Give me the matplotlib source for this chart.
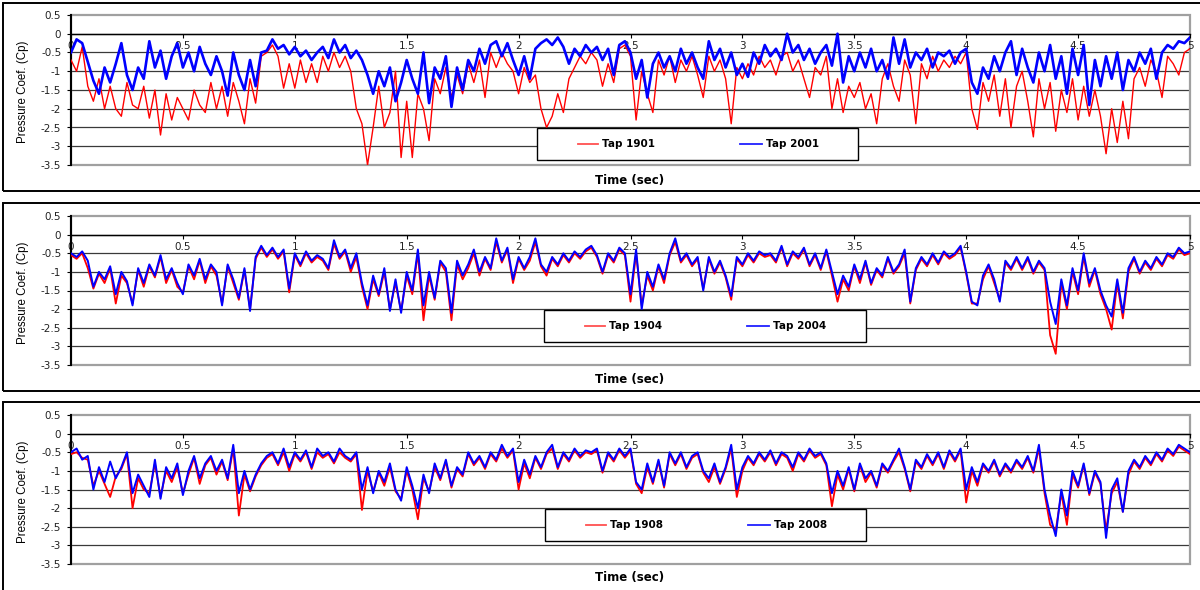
import numpy as np
import matplotlib
matplotlib.use("Agg")
import matplotlib.pyplot as plt
from matplotlib.patches import Rectangle
from matplotlib.lines import Line2D

plt.rcParams['axes.unicode_minus'] = False

# ---------------- data (time step 0.025 s, 0 .. 5 s) ----------------
time_sec = np.round(np.arange(0, 5.0001, 0.025), 3)

tap1901 = [
    -0.7, -1.0, -0.35, -1.4, -1.8, -1.2, -2.0, -1.4, -2.0, -2.2,
    -1.3, -1.9, -2.0, -1.4, -2.25, -1.5, -2.7, -1.6, -2.3, -1.7,
    -2.0, -2.3, -1.5, -1.9, -2.1, -1.3, -2.0, -1.4, -2.2, -1.3,
    -1.8, -2.4, -1.2, -1.85, -0.6, -0.5, -0.3, -0.6, -1.45, -0.8,
    -1.45, -0.7, -1.3, -0.8, -1.3, -0.6, -1.0, -0.5, -0.9, -0.6,
    -1.0, -2.0, -2.4, -3.5, -2.5, -1.4, -2.5, -2.1, -1.0, -3.3,
    -1.8, -3.3, -1.6, -2.0, -2.85, -1.2, -1.6, -0.9, -1.7, -1.1,
    -1.6, -0.8, -1.3, -0.7, -1.7, -0.5, -0.9, -0.5, -0.8, -1.0,
    -1.6, -0.9, -1.3, -1.1, -2.0, -2.5, -2.2, -1.6, -2.1, -1.2,
    -0.9, -0.6, -0.8, -0.5, -0.7, -1.4, -0.8, -1.3, -0.4, -0.3,
    -0.6, -2.3, -1.0, -1.6, -2.1, -0.7, -1.1, -0.6, -1.3, -0.7,
    -1.0, -0.6, -1.1, -1.7, -0.6, -1.0, -0.7, -1.2, -2.4, -0.9,
    -1.2, -0.8, -1.1, -0.6, -0.9, -0.7, -1.1, -0.6, -0.5, -1.0,
    -0.7, -1.2, -1.7, -0.9, -1.1, -0.6, -2.0, -1.2, -2.1, -1.4,
    -1.7, -1.3, -2.0, -1.6, -2.4, -1.2, -0.8, -1.4, -1.8, -0.7,
    -1.1, -2.4, -0.8, -1.2, -0.6, -1.0, -0.7, -0.9, -0.6, -0.8,
    -0.5, -2.0, -2.55, -1.3, -1.8, -1.1, -2.2, -1.2, -2.5, -1.4,
    -1.0, -1.8, -2.75, -1.2, -2.0, -1.3, -2.6, -1.5, -2.1, -1.2,
    -2.3, -1.4, -2.2, -1.5, -2.2, -3.2, -2.0, -2.9, -1.8, -2.8,
    -1.2, -0.9, -1.4, -0.7, -1.0, -1.7, -0.6, -0.8, -1.1, -0.5,
    -0.4,
]
tap2001 = [
    -0.5, -0.15, -0.25, -0.75, -1.25, -1.6, -0.9, -1.3, -0.8, -0.25,
    -1.1, -1.5, -0.9, -1.2, -0.2, -0.9, -0.45, -1.2, -0.6, -0.25,
    -0.9, -0.5, -1.0, -0.35, -0.8, -1.1, -0.6, -1.0, -1.65, -0.5,
    -1.1, -1.5, -0.7, -1.4, -0.5, -0.45, -0.15, -0.4, -0.3, -0.55,
    -0.35, -0.6, -0.45, -0.7, -0.5, -0.35, -0.65, -0.15, -0.5, -0.3,
    -0.65, -0.45, -0.7, -1.1, -1.6, -1.0, -1.4, -0.9, -1.8, -1.3,
    -0.7, -1.2, -1.6, -0.5, -1.85, -0.9, -1.2, -0.6, -1.95, -0.9,
    -1.5, -0.7, -1.0, -0.4, -0.8, -0.3, -0.2, -0.6, -0.25, -0.7,
    -1.1, -0.6, -1.2, -0.4, -0.25, -0.15, -0.3, -0.1, -0.35, -0.8,
    -0.4, -0.6, -0.3, -0.5, -0.35, -0.7, -0.4, -1.1, -0.3, -0.2,
    -0.5, -1.2, -0.7, -1.7, -0.8, -0.5, -0.9, -0.6, -1.0, -0.4,
    -0.8, -0.5, -0.9, -1.2, -0.2, -0.7, -0.4, -0.9, -0.5, -1.1,
    -0.8, -1.15, -0.5, -0.8, -0.3, -0.6, -0.4, -0.7, 0.0, -0.5,
    -0.3, -0.7, -0.4, -0.8, -0.5, -0.3, -0.85, 0.0, -1.3, -0.6,
    -1.0, -0.5, -0.9, -0.4, -1.0, -0.7, -1.2, -0.1, -0.8, -0.15,
    -0.9, -0.5, -0.7, -0.4, -0.9, -0.5, -0.6, -0.45, -0.8, -0.5,
    -0.4, -1.3, -1.6, -0.9, -1.2, -0.6, -1.0, -0.5, -0.2, -1.1,
    -0.4, -0.9, -1.3, -0.5, -1.0, -0.3, -1.2, -0.6, -1.6, -0.4,
    -1.1, -0.3, -1.9, -0.7, -1.4, -0.6, -1.2, -0.5, -1.5, -0.7,
    -1.0, -0.5, -0.8, -0.4, -1.2, -0.5, -0.3, -0.4, -0.2, -0.25,
    -0.1,
]

tap2004 = [
    -0.5, -0.6, -0.45, -0.7, -1.4, -1.0, -1.2, -0.85, -1.6, -1.0,
    -1.25, -1.9, -0.9, -1.3, -0.8, -1.1, -0.55, -1.2, -0.9, -1.3,
    -1.6, -0.8, -1.1, -0.65, -1.2, -0.8, -1.0, -1.9, -0.8, -1.2,
    -1.7, -0.9, -2.05, -0.6, -0.3, -0.55, -0.35, -0.6, -0.4, -1.45,
    -0.5, -0.8, -0.45, -0.7, -0.55, -0.65, -0.9, -0.15, -0.6, -0.4,
    -0.9, -0.5, -1.3, -1.9, -1.1, -1.6, -0.9, -2.05, -1.2, -2.1,
    -1.0, -1.5, -0.4, -1.9, -1.0, -1.7, -0.7, -0.9, -2.1, -0.7,
    -1.1, -0.8, -0.4, -1.0, -0.6, -0.9, -0.1, -0.7, -0.35, -1.2,
    -0.6, -0.9, -0.6, -0.1, -0.8, -1.0, -0.6, -0.8, -0.5, -0.7,
    -0.45, -0.6, -0.4, -0.3, -0.55, -1.0, -0.5, -0.7, -0.35, -0.5,
    -1.6, -0.4, -2.0, -1.0, -1.4, -0.8, -1.2, -0.5, -0.1, -0.7,
    -0.5, -0.8, -0.6, -1.5, -0.6, -1.0, -0.7, -1.1, -1.65, -0.6,
    -0.8, -0.5, -0.7, -0.45, -0.55, -0.5, -0.7, -0.3, -0.8, -0.45,
    -0.6, -0.35, -0.8, -0.5, -0.9, -0.4, -1.0, -1.6, -1.1, -1.4,
    -0.8, -1.2, -0.7, -1.3, -0.9, -1.1, -0.6, -1.0, -0.8, -0.4,
    -1.8, -0.9, -0.6, -0.8, -0.5, -0.75, -0.45, -0.6, -0.5, -0.3,
    -1.0, -1.8, -1.9, -1.1, -0.8, -1.2, -1.8, -0.7, -0.9, -0.6,
    -0.9, -0.6, -1.0, -0.7, -0.9, -1.8, -2.4, -1.2, -1.9, -0.9,
    -1.5, -0.5, -1.3, -0.9, -1.5, -1.9, -2.2, -1.2, -2.1, -0.9,
    -0.6, -1.0, -0.7, -0.9, -0.6, -0.8, -0.5, -0.6, -0.35, -0.5,
    -0.45,
]
tap1904 = [
    -0.55, -0.65, -0.5, -0.9, -1.45, -1.05, -1.3, -0.9, -1.85, -1.1,
    -1.3, -1.85, -0.95, -1.4, -0.85, -1.15, -0.6, -1.3, -0.95, -1.4,
    -1.55, -0.85, -1.2, -0.7, -1.3, -0.85, -1.1, -1.85, -0.85, -1.3,
    -1.75, -0.95, -2.0, -0.65, -0.35, -0.6, -0.4, -0.65, -0.45, -1.55,
    -0.55, -0.85, -0.5, -0.75, -0.6, -0.7, -0.95, -0.25, -0.65, -0.45,
    -1.0, -0.6, -1.4, -2.0, -1.2, -1.65, -1.0, -2.0, -1.3, -2.05,
    -1.1, -1.6, -0.5, -2.3, -1.1, -1.75, -0.75, -1.0, -2.3, -0.8,
    -1.2, -0.9, -0.5, -1.1, -0.65, -0.95, -0.2, -0.75, -0.4, -1.3,
    -0.65, -0.95, -0.7, -0.2, -0.85, -1.1, -0.65, -0.85, -0.55, -0.75,
    -0.5, -0.65, -0.45, -0.35, -0.6, -1.05, -0.55, -0.75, -0.4, -0.55,
    -1.8, -0.5, -1.9, -1.1, -1.5, -0.85, -1.3, -0.55, -0.2, -0.75,
    -0.55, -0.85, -0.65, -1.45, -0.65, -1.05, -0.75, -1.15, -1.75, -0.65,
    -0.85, -0.55, -0.75, -0.5, -0.6, -0.55, -0.75, -0.35, -0.85, -0.5,
    -0.65, -0.4, -0.85, -0.55, -0.95, -0.45, -1.1, -1.8, -1.2, -1.5,
    -0.85, -1.3, -0.75, -1.35, -0.95, -1.15, -0.65, -1.05, -0.85, -0.5,
    -1.85, -0.95, -0.65, -0.85, -0.55, -0.8, -0.5, -0.65, -0.55, -0.35,
    -1.05, -1.85, -1.85, -1.2, -0.85, -1.3, -1.75, -0.75, -0.95, -0.65,
    -0.95, -0.65, -1.05, -0.75, -0.95, -2.7, -3.2, -1.3, -2.0, -1.0,
    -1.6, -0.6, -1.4, -0.95, -1.6, -2.0, -2.55, -1.3, -2.25, -1.0,
    -0.65, -1.05, -0.75, -0.95, -0.65, -0.85, -0.55, -0.65, -0.4, -0.55,
    -0.5,
]

tap2008 = [
    -0.5, -0.4, -0.7, -0.6, -1.5, -0.9, -1.3, -0.75, -1.2, -0.9,
    -0.5, -1.6, -1.1, -1.4, -1.7, -0.7, -1.75, -0.9, -1.2, -0.8,
    -1.65, -1.0, -0.6, -1.2, -0.8, -0.6, -1.0, -0.7, -1.2, -0.3,
    -1.6, -1.0, -1.5, -1.1, -0.8, -0.6, -0.5, -0.8, -0.4, -0.9,
    -0.5, -0.7, -0.45, -0.9, -0.4, -0.6, -0.5, -0.75, -0.4, -0.6,
    -0.7, -0.5, -1.5, -0.9, -1.6, -1.0, -1.3, -0.8, -1.5, -1.8,
    -0.9, -1.4, -2.0, -1.1, -1.6, -0.8, -1.2, -0.7, -1.4, -0.9,
    -1.1, -0.5, -0.8, -0.6, -0.9, -0.5, -0.7, -0.3, -0.6, -0.4,
    -1.3, -0.7, -1.1, -0.6, -0.9, -0.5, -0.3, -0.9, -0.5, -0.7,
    -0.4, -0.6, -0.45, -0.5, -0.4, -1.0, -0.5, -0.7, -0.4, -0.6,
    -0.4, -1.3, -1.5, -0.8, -1.3, -0.7, -1.4, -0.5, -0.8, -0.5,
    -0.9, -0.6, -0.5, -1.0, -1.2, -0.8, -1.3, -0.9, -0.3, -1.5,
    -0.9, -0.6, -0.8, -0.5, -0.7, -0.45, -0.8, -0.5, -0.6, -0.9,
    -0.5, -0.7, -0.4, -0.6, -0.5, -0.8, -1.6, -1.0, -1.4, -0.9,
    -1.5, -0.8, -1.2, -1.0, -1.4, -0.8, -1.0, -0.7, -0.4, -0.9,
    -1.5, -0.7, -0.9, -0.55, -0.8, -0.5, -0.9, -0.45, -0.7, -0.4,
    -1.5, -0.9, -1.3, -0.8, -1.0, -0.7, -1.1, -0.8, -1.0, -0.7,
    -0.9, -0.6, -1.0, -0.3, -1.5, -2.2, -2.75, -1.5, -2.2, -1.0,
    -1.4, -0.8, -1.6, -1.0, -1.3, -2.8, -1.5, -1.2, -2.1, -1.0,
    -0.7, -0.9, -0.6, -0.8, -0.5, -0.7, -0.4, -0.55, -0.3, -0.4,
    -0.5,
]
tap1908 = [
    -0.55, -0.5, -0.65, -0.7, -1.4, -1.0, -1.35, -1.7, -1.15, -0.95,
    -0.55, -2.0, -1.2, -1.5, -1.6, -0.8, -1.7, -1.0, -1.3, -0.9,
    -1.6, -1.1, -0.65, -1.35, -0.85, -0.65, -1.1, -0.75, -1.25, -0.4,
    -2.2, -1.1, -1.55, -1.15, -0.85, -0.65, -0.55, -0.85, -0.5, -1.0,
    -0.55, -0.75, -0.5, -0.95, -0.5, -0.65, -0.55, -0.8, -0.5, -0.65,
    -0.75, -0.55, -2.05, -1.0, -1.55, -1.05, -1.4, -0.9, -1.55, -1.75,
    -1.0, -1.5, -2.3, -1.2, -1.55, -0.9, -1.25, -0.75, -1.45, -0.95,
    -1.15, -0.55, -0.85, -0.65, -0.95, -0.55, -0.75, -0.4, -0.65, -0.45,
    -1.5, -0.8, -1.2, -0.65, -0.95, -0.55, -0.4, -0.95, -0.55, -0.75,
    -0.45, -0.65, -0.5, -0.55, -0.45, -1.05, -0.55, -0.75, -0.45, -0.65,
    -0.45, -1.35, -1.6, -0.9, -1.35, -0.75, -1.45, -0.55, -0.85, -0.55,
    -0.95, -0.65, -0.55, -1.05, -1.3, -0.9, -1.35, -0.95, -0.4, -1.7,
    -1.0, -0.65, -0.85, -0.55, -0.75, -0.5, -0.85, -0.55, -0.65, -1.0,
    -0.55, -0.75, -0.45, -0.65, -0.55, -0.85, -1.95, -1.1, -1.5, -0.95,
    -1.55, -0.85, -1.3, -1.05, -1.45, -0.85, -1.05, -0.75, -0.5, -0.95,
    -1.55, -0.75, -0.95, -0.6, -0.85, -0.55, -0.95, -0.5, -0.75, -0.45,
    -1.85, -1.0, -1.4, -0.85, -1.05, -0.75, -1.15, -0.85, -1.05, -0.75,
    -0.95, -0.65, -1.05, -0.4, -1.6, -2.45, -2.6, -1.6, -2.45, -1.1,
    -1.45, -0.85, -1.65, -1.05, -1.35, -2.6, -1.6, -1.3, -2.1, -1.1,
    -0.75, -0.95, -0.65, -0.85, -0.55, -0.75, -0.45, -0.6, -0.35, -0.45,
    -0.55,
]

legend_pairs = [("Tap 1901", "Tap 2001"), ("Tap 1904", "Tap 2004"), ("Tap 1908", "Tap 2008")]
series_red = [tap1901, tap1904, tap1908]
series_blue = [tap2001, tap2004, tap2008]
x_ticks = [0, 0.5, 1, 1.5, 2, 2.5, 3, 3.5, 4, 4.5, 5]
x_tick_labels = ["0", "0.5", "1", "1.5", "2", "2.5", "3", "3.5", "4", "4.5", "5"]
y_ticks = [0.5, 0, -0.5, -1, -1.5, -2, -2.5, -3, -3.5]
y_tick_labels = ["0.5", "0", "-0.5", "-1", "-1.5", "-2", "-2.5", "-3", "-3.5"]

# ---------------- layout (pixels) ----------------
W, H = 1200, 590
fig = plt.figure(figsize=(W / 100, H / 100), dpi=100)
fig.patch.set_facecolor("white")

def fx(px):
    return px / W

def fy(py):
    return 1 - py / H

panels = [
    # plot top, plot bottom, border top, border bottom, legend box (x0,y0,x1,y1), time label y
    dict(top=15, bot=165, btop=3, bbot=191, leg=(537, 128, 858, 160), tly=181, red_lw=1.0, blue_lw=1.9),
    dict(top=216, bot=365, btop=203, bbot=391, leg=(544, 310, 866, 342), tly=379, red_lw=1.3, blue_lw=1.4),
    dict(top=415, bot=564, btop=402, bbot=600, leg=(545, 509, 866, 541), tly=578, red_lw=1.3, blue_lw=1.4),
]
AX_L, AX_R = 71, 1190

for i, p in enumerate(panels):
    # outer border
    fig.add_artist(Rectangle((fx(3), fy(p['bbot'])), fx(1210 - 3), (p['bbot'] - p['btop']) / H,
                             transform=fig.transFigure, fill=False, edgecolor="black", lw=1.4))
    ax = fig.add_axes([fx(AX_L), fy(p['bot']), fx(AX_R - AX_L), (p['bot'] - p['top']) / H])
    ax.set_xlim(0, 5)
    ax.set_ylim(-3.5, 0.5)
    for yv in y_ticks[1:-1]:
        ax.axhline(yv, color="#3a3a3a", lw=0.9, zorder=1)
    # plot area frame (grey)
    ax.add_patch(Rectangle((0, 0), 1, 1, transform=ax.transAxes, fill=False,
                           edgecolor="#a0a0a0", lw=1.6, zorder=1, clip_on=False))
    ax.plot(time_sec, series_red[i], color="#ff0000", lw=p['red_lw'], zorder=3)
    ax.plot(time_sec, series_blue[i], color="#0000ff", lw=p['blue_lw'], zorder=4)

    for s in ("top", "right"):
        ax.spines[s].set_visible(False)
    ax.spines['bottom'].set_position(('data', 0))
    ax.spines['bottom'].set_color("black")
    ax.spines['bottom'].set_linewidth(1.0)
    ax.spines['bottom'].set_zorder(2)
    ax.spines['left'].set_color("black")
    ax.spines['left'].set_linewidth(1.5)
    ax.set_xticks(x_ticks)
    ax.set_xticklabels(x_tick_labels, fontsize=7.5, family="DejaVu Sans", color="#222222")
    ax.set_yticks(y_ticks)
    ax.set_yticklabels(y_tick_labels, fontsize=7.5, family="DejaVu Sans", color="#222222")
    ax.tick_params(axis='x', direction='out', length=3, width=0.8, pad=2)
    ax.tick_params(axis='y', direction='out', length=3, width=0.8, pad=4)
    for lab in ax.get_xticklabels():
        lab.set_zorder(5)
    ax.set_facecolor("none")

    fig.text(fx(23), fy((p['top'] + p['bot']) / 2 + 2), "Pressure Coef. (Cp)", rotation=90,
             ha="center", va="center", fontsize=8.3, family="Liberation Sans")
    fig.text(fx(630), fy(p['tly']), "Time (sec)", ha="center", va="center",
             fontsize=8.5, fontweight="bold", family="DejaVu Sans")

    # legend box
    x0, y0, x1, y1 = p['leg']
    fig.add_artist(Rectangle((fx(x0), fy(y1)), fx(x1 - x0), (y1 - y0) / H, transform=fig.transFigure,
                             facecolor="white", edgecolor="black", lw=1.0, zorder=10))
    ym = fy((y0 + y1) / 2)
    rname, bname = legend_pairs[i]
    fig.add_artist(Line2D([fx(x0 + 41), fx(x0 + 61)], [ym, ym], transform=fig.transFigure,
                          color="#ff5050", lw=1.3, zorder=11))
    fig.text(fx(x0 + 65), ym, rname, ha="left", va="center", fontsize=7.5,
             fontweight="bold", family="DejaVu Sans", zorder=11)
    fig.add_artist(Line2D([fx(x0 + 203), fx(x0 + 225)], [ym, ym], transform=fig.transFigure,
                          color="#2020ff", lw=1.3, zorder=11))
    fig.text(fx(x0 + 229), ym, bname, ha="left", va="center", fontsize=7.5,
             fontweight="bold", family="DejaVu Sans", zorder=11)

fig.savefig("out.png", dpi=100, facecolor="white")
